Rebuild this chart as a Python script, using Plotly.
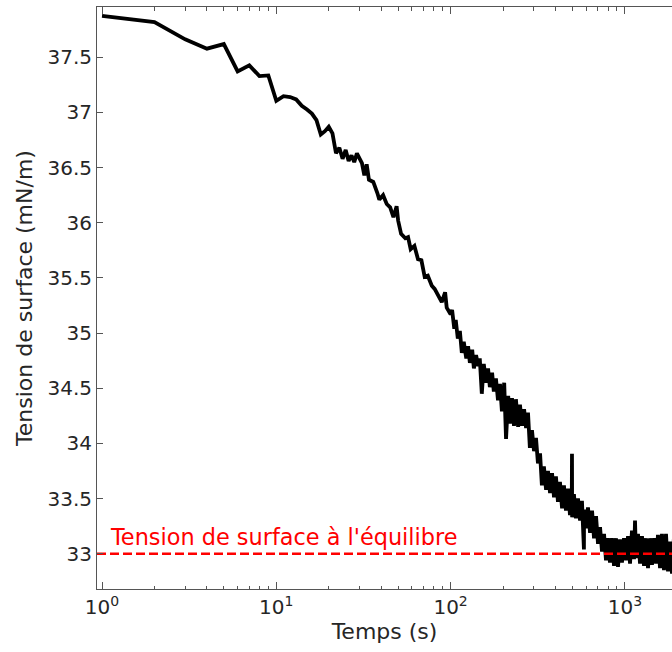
import plotly.graph_objects as go
import math

# Time (s) and surface tension (mN/m)
temps = [1, 2, 3, 4, 5, 6, 7, 8, 9, 10, 11, 12, 13, 14, 15, 16, 17,
         18, 19, 20, 21, 22, 23, 24, 25, 26, 27, 28, 29, 31, 32, 33, 34, 36, 38, 39,
         41, 43, 45, 47, 49, 50, 52, 55, 57, 59, 62, 65, 68, 71, 74, 78, 81, 85, 89,
         93, 95, 100,
         102, 105, 107, 110, 113, 116, 119, 123, 126, 129, 133, 136, 140, 144, 147,
         151, 155, 160, 164, 168, 173, 177, 182, 187, 192, 197, 203, 208, 214, 219,
         225, 231, 237, 244, 250, 257, 264, 271, 278, 285, 293, 301, 309, 317, 326,
         334, 343, 353, 362, 372, 382, 392, 402, 413, 424, 436, 447, 459, 472, 484,
         496, 497, 498, 510, 524, 538, 553, 567, 582, 583, 598, 614, 631, 648, 665,
         683, 701, 720, 739, 759, 779, 800, 821, 843, 866, 889, 913, 937, 962, 988,
         1015, 1042, 1070, 1098, 1128, 1143, 1158, 1189, 1221, 1253, 1287, 1322,
         1357, 1393, 1430, 1469, 1508, 1548, 1590, 1632, 1676, 1721, 1767, 1814,
         1863, 1910, 1960]
tension = [37.875, 37.82, 37.663, 37.578, 37.62, 37.372, 37.427, 37.33, 37.336,
           37.105, 37.148, 37.14, 37.118, 37.06, 37.027, 36.99, 36.93,
           36.80, 36.83, 36.87, 36.81, 36.63, 36.68, 36.58, 36.66, 36.56, 36.61,
           36.55, 36.63, 36.54, 36.43, 36.53, 36.39, 36.37, 36.27, 36.21,
           36.25, 36.17, 36.14, 36.05, 36.15, 36.02, 35.90, 35.86, 35.87, 35.76,
           35.79, 35.67, 35.66, 35.51, 35.52, 35.43, 35.40, 35.33, 35.28,
           35.37, 35.23, 35.17,
           35.21, 35.04, 35.12, 34.95, 35.02, 34.82, 34.92, 34.77, 34.88,
           34.73, 34.85, 34.68, 34.80, 34.70, 34.77,
           34.45, 34.72, 34.55, 34.68, 34.51, 34.64, 34.47, 34.59, 34.39,
           34.54, 34.29, 34.55, 34.04, 34.43, 34.18,
           34.41, 34.16, 34.40, 34.15, 34.35, 34.16, 34.31, 34.14, 34.28,
           33.96, 34.12, 33.93, 34.05, 33.82, 33.91,
           33.62, 33.79, 33.58, 33.75, 33.55, 33.73, 33.51, 33.70, 33.47,
           33.65, 33.41, 33.62, 33.39, 33.59, 33.35,
           33.58, 33.905, 33.33, 33.54, 33.32, 33.50, 33.30, 33.48, 33.038,
           33.40, 33.23, 33.42, 33.19, 33.39, 33.14,
           33.34, 33.09, 33.24, 33.02, 33.18, 32.94, 33.14, 32.92, 33.14,
           32.89, 33.14, 32.88, 33.13, 32.92, 33.14,
           32.94, 33.16, 32.91, 33.21, 32.95, 33.30, 32.96, 33.18, 32.91,
           33.16, 32.89, 33.14,
           32.87, 33.14, 32.90, 33.14, 32.91, 33.17, 32.87, 33.18, 32.85,
           33.18, 32.84, 33.11,
           32.82, 33.14, 32.86]

equilibre = 33.0
equilibre_label = "Tension de surface à l'équilibre"
x_range = [0.936, 1863]
y_range = [32.68, 37.956]
x_ticks = [1, 10, 100, 1000]
x_ticklabels = ["10<sup>0</sup>", "10<sup>1</sup>", "10<sup>2</sup>", "10<sup>3</sup>"]
y_ticks = [33, 33.5, 34, 34.5, 35, 35.5, 36, 36.5, 37, 37.5]
y_ticklabels = ["33", "33.5", "34", "34.5", "35", "35.5", "36", "36.5", "37", "37.5"]

FONT = "DejaVu Sans"
TXT = "#262626"
AX = "#555555"

fig = go.Figure()
fig.add_trace(go.Scatter(x=temps, y=tension, mode="lines",
                         line=dict(color="black", width=3.8), showlegend=False,
                         hoverinfo="skip"))
fig.add_trace(go.Scatter(x=[x_range[0], 2500], y=[equilibre, equilibre], mode="lines",
                         line=dict(color="#ff0000", width=2.5, dash="9px,4px"),
                         showlegend=False, hoverinfo="skip"))

fig.add_annotation(x=math.log10(1.12), y=equilibre, xref="x", yref="y",
                   text=equilibre_label, showarrow=False,
                   xanchor="left", yanchor="bottom", yshift=2, xshift=-3,
                   font=dict(family=FONT, size=22.4, color="#ff0000"))

fig.update_layout(
    width=672, height=652,
    margin=dict(l=97, r=0, t=7, b=63, autoexpand=False),
    paper_bgcolor="white", plot_bgcolor="white",
    font=dict(family=FONT, color=TXT),
)
fig.update_xaxes(
    type="log", range=[math.log10(x_range[0]), math.log10(x_range[1])],
    tickvals=x_ticks, ticktext=x_ticklabels,
    ticks="inside", ticklen=7, tickwidth=1, tickcolor=AX,
    minor=dict(ticks="inside", ticklen=3.5, tickwidth=1, tickcolor=AX, dtick="D1", showgrid=False),
    showline=True, linecolor=AX, linewidth=1, mirror="allticks",
    showgrid=False, zeroline=False, automargin=False,
    tickfont=dict(family=FONT, size=20, color=TXT),
    title=dict(text="Temps (s)", font=dict(family=FONT, size=22, color=TXT), standoff=4),
)
fig.update_yaxes(
    range=y_range, tickvals=y_ticks, ticktext=y_ticklabels,
    ticks="inside", ticklen=6, tickwidth=1, tickcolor=AX,
    showline=True, linecolor=AX, linewidth=1, mirror=False,
    showgrid=False, zeroline=False, automargin=False,
    tickfont=dict(family=FONT, size=20, color=TXT),
    title=dict(text="Tension de surface (mN/m)", font=dict(family=FONT, size=22, color=TXT), standoff=8),
)

fig.write_html("out.html", config={"displayModeBar": False},
               post_script="document.body.style.margin='0';document.body.style.overflow='hidden';")
